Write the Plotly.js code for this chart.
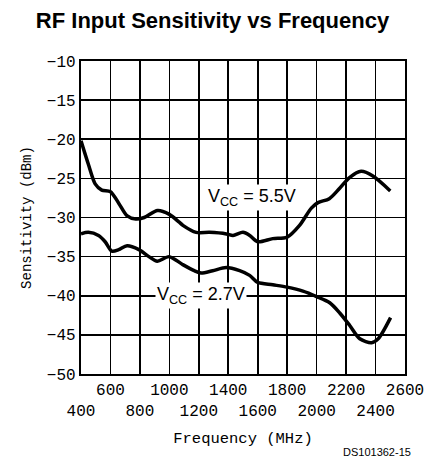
<!DOCTYPE html>
<html><head><meta charset="utf-8">
<script src="https://cdn.plot.ly/plotly-3.0.1.min.js"></script>
<style>html,body{margin:0;padding:0;background:#fff}#chart{width:425px;height:464px}</style>
</head><body><div id="chart"></div>
<script>
const freq55 = [400,450,496,541,600,657,714,772,829,920,1000,1067,1092,1182,1273,1387,1432,1500,1546,1600,1702,1800,1884,1964,2009,2086,2155,2223,2302,2382,2500];
const sens55 = [-20.2,-23.2,-25.7,-26.5,-26.7,-28.2,-29.8,-30.2,-30.0,-29.1,-29.6,-30.6,-31.0,-31.9,-31.9,-32.1,-32.3,-31.9,-32.3,-33.1,-32.7,-32.5,-31.0,-28.8,-28.1,-27.6,-26.3,-24.9,-24.1,-24.7,-26.6];
const freq27 = [400,450,519,564,610,656,713,793,861,918,998,1089,1169,1215,1294,1386,1477,1545,1600,1702,1800,1907,2000,2089,2157,2225,2293,2373,2418,2502];
const sens27 = [-32.1,-31.9,-32.3,-33.1,-34.3,-34.1,-33.6,-34.1,-35.0,-35.6,-35.0,-36.0,-36.8,-37.1,-36.8,-36.4,-36.8,-37.4,-38.3,-38.6,-38.9,-39.4,-40.1,-40.9,-42.2,-43.8,-45.5,-46.0,-45.5,-42.8];
const xTicks = [400,600,800,1000,1200,1400,1600,1800,2000,2200,2400,2600];
const yTicks = [-10,-15,-20,-25,-30,-35,-40,-45,-50];
const labels = [{text:'V<sub>CC</sub> = 5.5V', x:1562, y:-27.4}, {text:'V<sub>CC</sub> = 2.7V', x:1213, y:-40}];

const mono = 'Liberation Mono, monospace';
const lineStyle = {color:'#000', width:3.5, shape:'spline', smoothing:0.8};
const traces = [
  {x:freq55, y:sens55, mode:'lines', line:lineStyle, hoverinfo:'skip'},
  {x:freq27, y:sens27, mode:'lines', line:lineStyle, hoverinfo:'skip'}
];
const layout = {
  width:425, height:464, showlegend:false,
  paper_bgcolor:'#fff', plot_bgcolor:'#fff',
  margin:{l:81, r:20, t:61, b:90},
  title:{text:'<b>RF Input Sensitivity vs Frequency</b>', font:{family:'Liberation Sans, Arial', size:22, color:'#000'}, x:0.5, xanchor:'center', y:0.956, yanchor:'middle'},
  xaxis:{range:[400,2600], tickmode:'array', tickvals:xTicks, tickangle:0, automargin:false,
    ticktext:xTicks.map((v,i)=> i%2===1 ? String(v) : '\u00a0<br>'+v),
    showgrid:true, gridcolor:'#000', gridwidth:1.6, zeroline:false,
    showline:true, linecolor:'#000', linewidth:2.2, mirror:true, ticks:'', ticklen:0,
    tickfont:{family:mono, size:16, color:'#000'},
    title:{text:'Frequency (MHz)', font:{family:mono, size:15.5, color:'#000'}, standoff:12}},
  yaxis:{range:[-50,-10], tickmode:'array', tickvals:yTicks, ticktext:yTicks.map(v=>'\u2212'+Math.abs(v)), automargin:false,
    showgrid:true, gridcolor:'#000', gridwidth:1.6, zeroline:false,
    showline:true, linecolor:'#000', linewidth:2.2, mirror:true, ticks:'',
    tickfont:{family:mono, size:16, color:'#000'},
    title:{text:'Sensitivity (dBm)', font:{family:mono, size:14, color:'#000'}, standoff:12}},
  annotations: labels.map(l=>({x:l.x, y:l.y, xref:'x', yref:'y', text:l.text, showarrow:false,
    bgcolor:'#fff', font:{family:'Liberation Sans, Arial', size:18, color:'#000'}, borderpad:1}))
    .concat([{x:1, y:0, xref:'paper', yref:'paper', xanchor:'right', yanchor:'top', yshift:-70, xshift:8,
      text:'DS101362-15', showarrow:false, font:{family:'Liberation Sans, Arial', size:11, color:'#000'}}])
};
Plotly.newPlot('chart', traces, layout, {staticPlot:true});
</script></body></html>
